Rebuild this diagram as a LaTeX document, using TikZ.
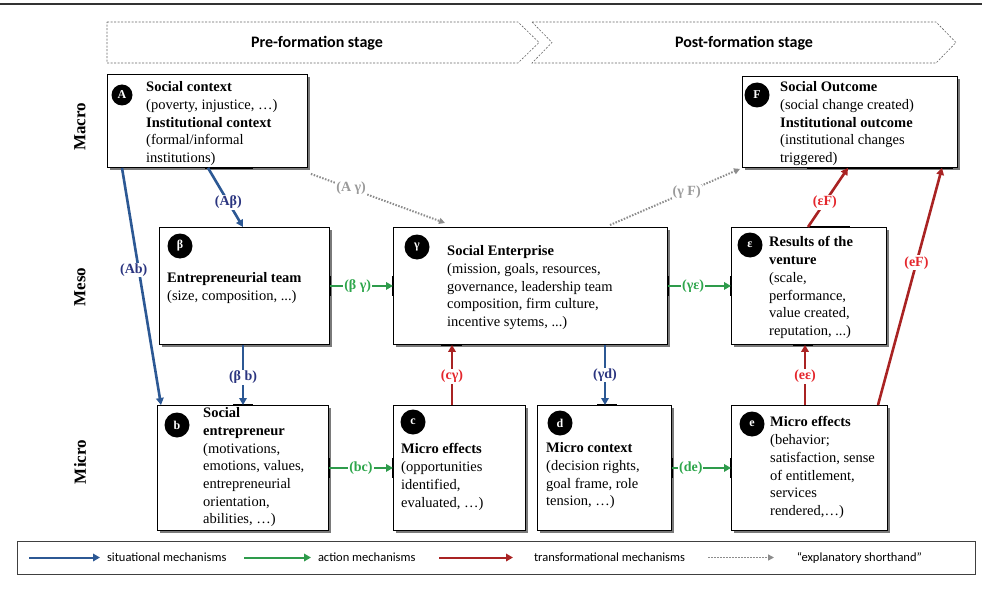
\documentclass[tikz,border=0pt]{standalone}
\usepackage{fontspec}
\setmainfont{Liberation Serif}
\newfontfamily\sansfont{Carlito}
\usepackage{xcolor}
\usepackage{tikz}
\usetikzlibrary{arrows.meta,shadows}

\definecolor{situblue}{HTML}{2C5894}
\definecolor{situtxt}{HTML}{2B3580}
\definecolor{actgreen}{HTML}{2E9B4B}
\definecolor{acttxt}{HTML}{2DA64B}
\definecolor{transred}{HTML}{A92323}
\definecolor{transtxt}{HTML}{E4262C}
\definecolor{shortgray}{HTML}{8C8C8C}
\definecolor{shorttxt}{HTML}{9A9A9A}

\begin{document}
\begin{tikzpicture}[x=1pt,y=1pt]
      \tikzstyle{box} = [draw, line width=0.9pt, fill=white, inner sep=0pt, anchor=north west, drop shadow={shadow xshift=3pt, shadow yshift=-3pt, fill=black!65, opacity=0.8}]
      \tikzstyle{tag} = [circle, fill=black, text=white, inner sep=0pt, minimum size=25pt, font=\fontsize{12}{12}\selectfont\bfseries]
      \tikzstyle{txt} = [anchor=north west, align=left, inner sep=0pt, font=\fontsize{14.5}{17.7}\selectfont]
      \tikzstyle{lvl} = [rotate=90, font=\fontsize{17}{17}\selectfont\bfseries]
      \tikzstyle{stage} = [draw=black!60, line width=0.6pt, dash pattern=on 2pt off 1.5pt]
      \tikzstyle{stagetext} = [font=\sansfont\fontsize{16}{16}\selectfont\bfseries]
      \tikzstyle{lbl} = [fill=white, inner sep=1pt, font=\fontsize{14}{14}\selectfont\bfseries]
      \tikzstyle{tick} = [line width=2.4pt, black]
      \tikzstyle{situ} = [-{Triangle[length=7pt,width=7.5pt]}, line width=2.6pt, draw=situblue]
      \tikzstyle{act} = [-{Triangle[length=7pt,width=7.5pt]}, line width=2.6pt, draw=actgreen]
      \tikzstyle{trans} = [-{Triangle[length=7pt,width=7.5pt]}, line width=2.6pt, draw=transred]
      \tikzstyle{short} = [-{Triangle[length=6pt,width=6pt]}, line width=2pt, draw=shortgray, dash pattern=on 1.5pt off 1.5pt]
      \tikzstyle{legend} = [right=6pt, inner sep=0pt, font=\sansfont\fontsize{12.5}{12.5}\selectfont]

      \useasboundingbox (0,0) rectangle (982,-591);
      \draw[line width=2pt, black!80] (0,-4) -- (982,-4);

      % stages
      \draw[stage] (107,-22) -- (518,-22) -- (539,-42.5) -- (518,-63) -- (107,-63) -- cycle;
      \draw[stage] (532,-22) -- (936,-22) -- (956,-42.5) -- (936,-63) -- (532,-63) -- (552,-42.5) -- cycle;
      \node[stagetext] (pre) at (317,-43) {Pre-formation stage};
      \node[stagetext] (post) at (744,-43) {Post-formation stage};

      % levels
      \node[lvl] (macro) at (80,-127) {Macro};
      \node[lvl] (meso) at (80,-287) {Meso};
      \node[lvl] (micro) at (80,-462) {Micro};

      % boxes
      \node[box, minimum width=200pt, minimum height=93pt] (A) at (107,-74) {};
      \node[box, minimum width=215pt, minimum height=91pt] (F) at (742,-76) {};
      \node[box, minimum width=170pt, minimum height=117pt] (beta) at (159,-227) {};
      \node[box, minimum width=274pt, minimum height=117pt] (gamma) at (393,-227) {};
      \node[box, minimum width=155pt, minimum height=117pt] (eps) at (731,-227) {};
      \node[box, minimum width=171pt, minimum height=125pt] (b) at (157,-405) {};
      \node[box, minimum width=132pt, minimum height=125pt] (c) at (393,-405) {};
      \node[box, minimum width=134pt, minimum height=125pt] (d) at (537,-405) {};
      \node[box, minimum width=156pt, minimum height=125pt] (e) at (731,-405) {};

      \node[tag, minimum size=21pt] (A-tag) at (122,-95) {A};
      \node[tag] (F-tag) at (757,-95) {F};
      \node[tag] (beta-tag) at (180,-246) {β};
      \node[tag] (gamma-tag) at (417,-247) {γ};
      \node[tag] (eps-tag) at (750,-245) {ε};
      \node[tag] (b-tag) at (177,-425) {b};
      \node[tag] (c-tag) at (413,-422) {c};
      \node[tag] (d-tag) at (560,-423) {d};
      \node[tag] (e-tag) at (752,-424) {e};

      \node[txt] (A-txt) at (146,-81.5) {\textbf{Social context}\\(poverty, injustice, …)\\\textbf{Institutional context}\\(formal/informal\\institutions)};
      \node[txt] (F-txt) at (780,-81.5) {\textbf{Social Outcome}\\(social change created)\\\textbf{Institutional outcome}\\(institutional changes\\triggered)};
      \node[txt] (beta-txt) at (167,-272.5) {\textbf{Entrepreneurial team}\\(size, composition, ...)};
      \node[txt] (gamma-txt) at (447,-245.5) {\textbf{Social Enterprise}\\(mission, goals, resources,\\governance, leadership team\\composition, firm culture,\\incentive sytems, ...)};
      \node[txt] (eps-txt) at (769,-236.5) {\textbf{Results of the}\\\textbf{venture}\\(scale,\\performance,\\value created,\\reputation, ...)};
      \node[txt] (b-txt) at (203,-407.5) {\textbf{Social}\\\textbf{entrepreneur}\\(motivations,\\emotions, values,\\entrepreneurial\\orientation,\\abilities, …)};
      \node[txt] (c-txt) at (401,-443.5) {\textbf{Micro effects}\\(opportunities\\identified,\\evaluated, …)};
      \node[txt] (d-txt) at (546,-442.5) {\textbf{Micro context}\\(decision rights,\\goal frame, role\\tension, …)};
      \node[txt] (e-txt) at (770,-416.5) {\textbf{Micro effects}\\(behavior;\\satisfaction, sense\\of entitlement,\\services\\rendered,…)};

      % thick border bits where the arrows meet the boxes
      \draw[tick] ([xshift=98pt]A.south west) -- ++(48,0);
      \draw[tick] ([xshift=65pt]F.south west) -- ++(146,0);
      \draw[tick] ([yshift=10pt]beta.east) -- ([yshift=-10pt]beta.east);
      \draw[tick] ([yshift=10pt]gamma.west) -- ([yshift=-10pt]gamma.west);
      \draw[tick] ([yshift=10pt]gamma.east) -- ([yshift=-10pt]gamma.east);
      \draw[tick] ([xshift=48pt]gamma.south west) -- ++(21,0);
      \draw[tick] ([xshift=79pt]eps.north west) -- ++(40,0);
      \draw[tick] ([yshift=10pt]eps.west) -- ([yshift=-10pt]eps.west);
      \draw[tick] ([xshift=62pt]eps.south west) -- ++(20,0);
      \draw[tick] ([xshift=76pt]b.north west) -- ++(20,0);
      \draw[tick] ([yshift=10pt]b.east) -- ([yshift=-10pt]b.east);
      \draw[tick] ([yshift=10pt]c.west) -- ([yshift=-10pt]c.west);
      \draw[tick] ([xshift=60pt]d.north west) -- ++(20,0);
      \draw[tick] ([yshift=10pt]d.east) -- ([yshift=-10pt]d.east);
      \draw[tick] ([yshift=10pt]e.west) -- ([yshift=-10pt]e.west);

      % situational mechanisms
      \draw[situ] ([xshift=15pt]A.south west) -- ([xshift=4pt]b.north west) node[lbl, text=situtxt, pos=0.43, xshift=-5pt] {(Ab)};
      \draw[situ] ([xshift=101pt]A.south west) -- ([xshift=84pt]beta.north west) node[lbl, text=situtxt, pos=0.58] {(Aβ)};
      \draw[situ] ([xshift=84pt]beta.south west) -- ([xshift=86pt]b.north west) node[lbl, text=situtxt, pos=0.54] {(β b)};
      \draw[situ] ([xshift=212pt]gamma.south west) -- ([xshift=68pt]d.north west) node[lbl, text=situtxt, pos=0.5] {(γd)};

      % action mechanisms
      \draw[act] (beta.east) -- (gamma.west) node[lbl, text=acttxt, pos=0.44] {(β γ)};
      \draw[act] (gamma.east) -- (eps.west) node[lbl, text=acttxt, pos=0.4] {(γε)};
      \draw[act] (b.east) -- (c.west) node[lbl, text=acttxt, pos=0.5] {(bc)};
      \draw[act] (d.east) -- (e.west) node[lbl, text=acttxt, pos=0.32] {(de)};

      % transformational mechanisms
      \draw[trans] ([xshift=59pt]c.north west) -- ([xshift=59pt]gamma.south west) node[lbl, text=transtxt, pos=0.475] {(cγ)};
      \draw[trans] ([xshift=74pt]e.north west) -- ([xshift=74pt]eps.south west) node[lbl, text=transtxt, pos=0.475] {(eε)};
      \draw[trans] ([xshift=77pt]eps.north west) -- ([xshift=106pt]F.south west) node[lbl, text=transtxt, pos=0.42] {(εF)};
      \draw[trans] ([xshift=147pt]e.north west) -- ([xshift=200pt]F.south west) node[lbl, text=transtxt, pos=0.6] {(eF)};

      % explanatory shorthand
      \draw[short] ([xshift=3pt,yshift=-6pt]A.south east) -- ([xshift=52pt,yshift=4pt]gamma.north west) node[lbl, text=shorttxt, pos=0.3] {(A γ)};
      \draw[short] ([xshift=217pt,yshift=2pt]gamma.north west) -- ([xshift=-2pt,yshift=-1pt]F.south west) node[lbl, text=shorttxt, pos=0.59] {(γ F)};

      % legend
      \draw[line width=0.8pt, black!75] (17,-541) rectangle (975,-574);
      \coordinate (s1) at (29,-557.5);
      \coordinate (s2) at (100,-557.5);
      \coordinate (a1) at (244,-557.5);
      \coordinate (a2) at (311,-557.5);
      \coordinate (t1) at (439,-557.5);
      \coordinate (t2) at (513,-557.5);
      \coordinate (x1) at (708,-557.5);
      \coordinate (x2) at (774,-557.5);
      \draw[situ, line width=2pt] (s1) -- (s2) node[legend] {situational mechanisms};
      \draw[act, line width=2pt] (a1) -- (a2) node[legend] {action mechanisms};
      \draw[trans, line width=2pt] (t1) -- (t2) node[legend, right=14pt] {transformational mechanisms};
      \draw[short, line width=1.6pt] (x1) -- (x2) node[legend, right=16pt] {“explanatory shorthand”};
\end{tikzpicture}
\end{document}
